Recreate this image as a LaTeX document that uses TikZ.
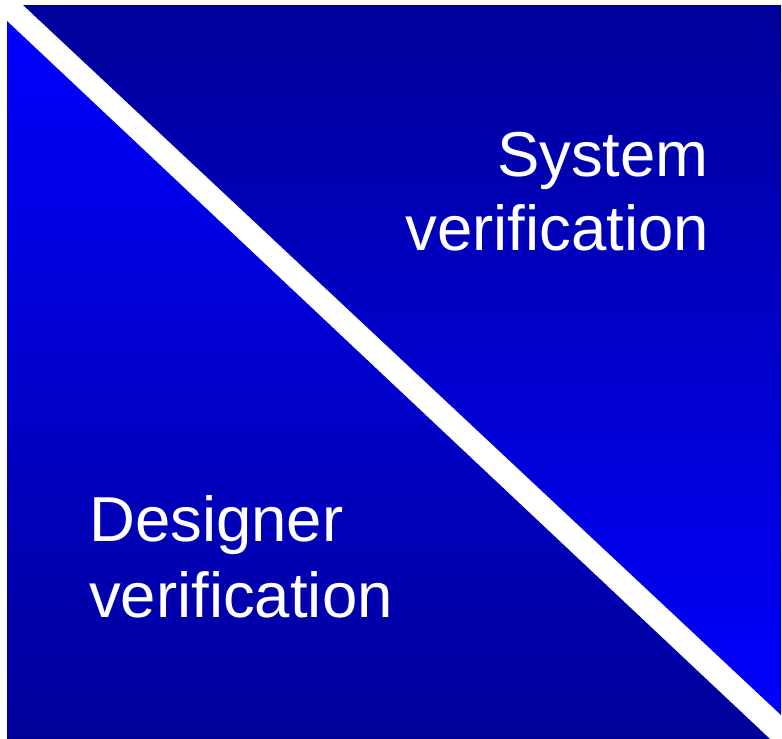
\documentclass[tikz,border=0pt]{standalone}
\usepackage{fontspec}
\setmainfont{Liberation Sans}
\definecolor{deepnavy}{RGB}{0,0,153}
\definecolor{brightblue}{RGB}{0,0,255}
\begin{document}
\begin{tikzpicture}[x=1pt, y=-1pt,
    caption/.style={text=white, font=\fontsize{63.5}{76}\selectfont, inner sep=0pt}]
  % page area with white margin
  \useasboundingbox (0,0) rectangle (782,739);
  \fill[white] (0,0) rectangle (782,739);
  % upper-right triangle: dark at the top, bright toward the bottom
  \shade[top color=deepnavy, bottom color=brightblue]
    (23,5) -- (781,5) -- (781,715) -- cycle;
  % lower-left triangle: bright at the top, dark toward the bottom
  \shade[top color=brightblue, bottom color=deepnavy]
    (7,21) -- (7,739) -- (770,739) -- cycle;
  % labels
  \node[caption, anchor=base east] (sysA) at (709,176) {System};
  \node[caption, anchor=base east] (sysB) at (709,250) {verification};
  \node[caption, anchor=base west] (desA) at (89,541) {Designer};
  \node[caption, anchor=base west] (desB) at (89,617) {verification};
\end{tikzpicture}
\end{document}
